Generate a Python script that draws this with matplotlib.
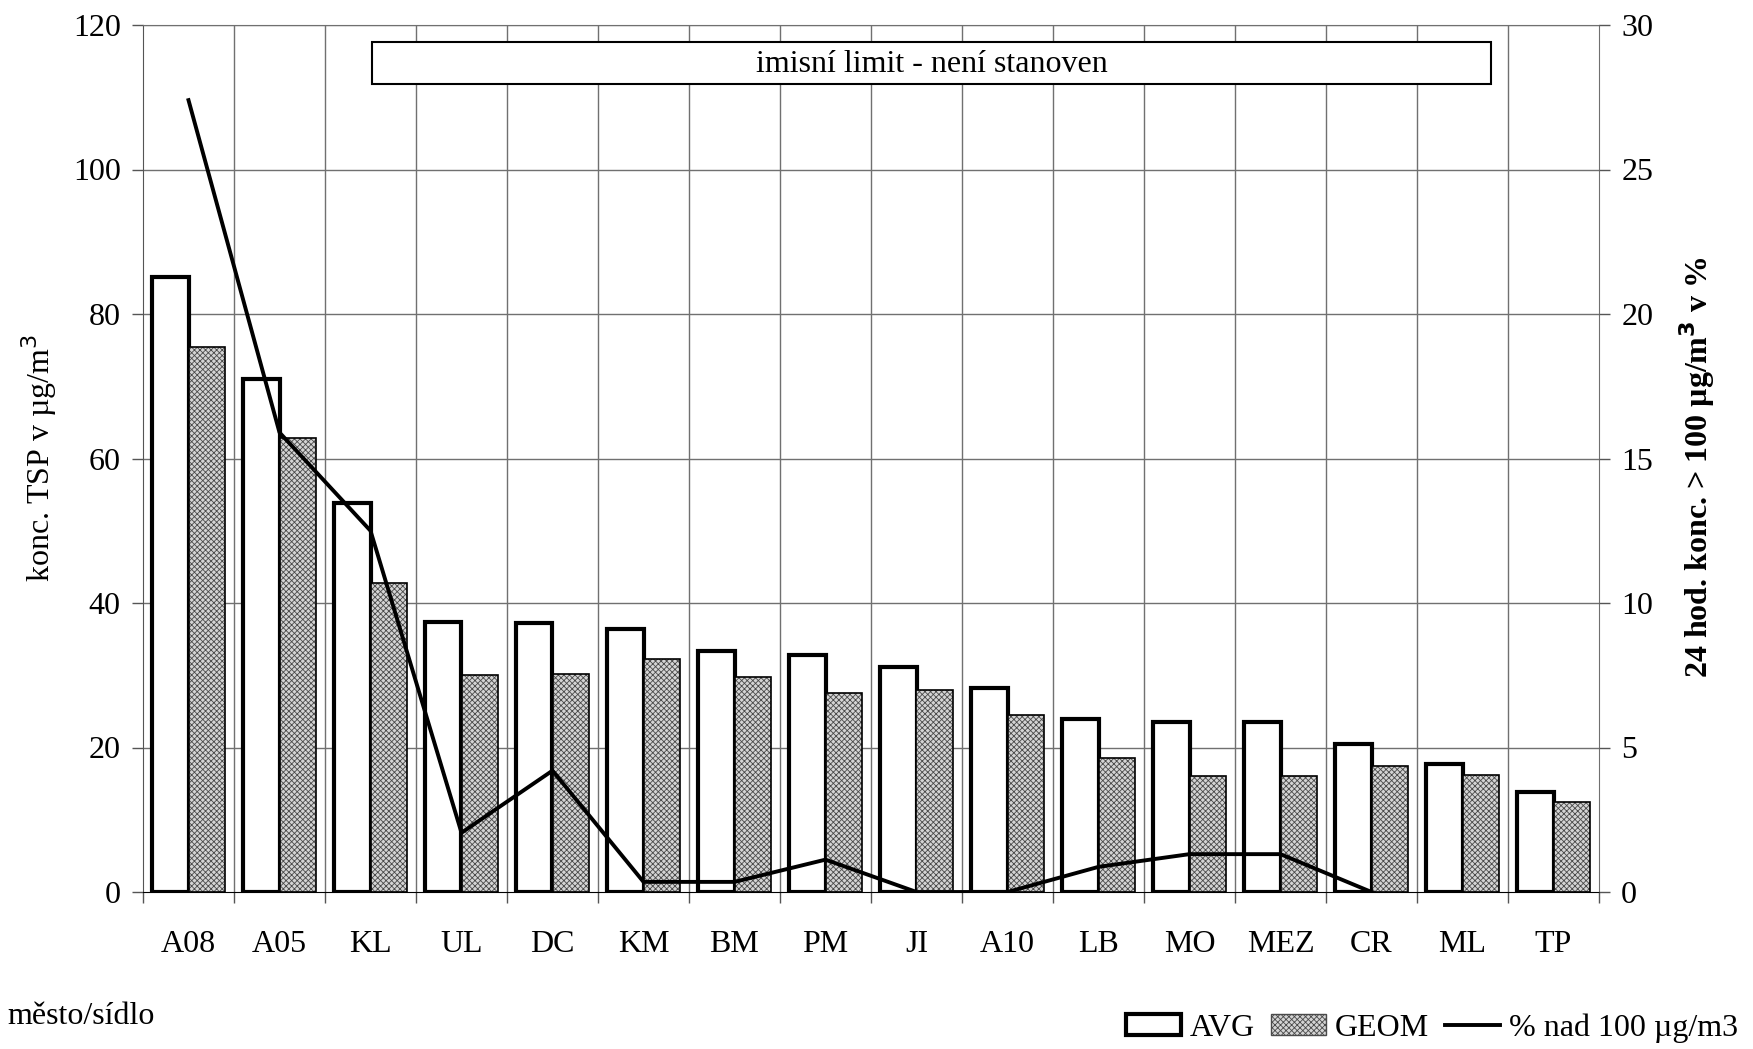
import matplotlib
matplotlib.use('Agg')
import matplotlib.pyplot as plt
from matplotlib.patches import Patch, Rectangle
from matplotlib.lines import Line2D
import numpy as np

# Data: TSP concentrations per station
stanice = ['A08', 'A05', 'KL', 'UL', 'DC', 'KM', 'BM', 'PM', 'JI', 'A10',
           'LB', 'MO', 'MEZ', 'CR', 'ML', 'TP']
avg = [85.1, 71.0, 53.8, 37.4, 37.2, 36.4, 33.4, 32.8, 31.1, 28.3,
       24.0, 23.5, 23.5, 20.5, 17.7, 13.9]
geom = [75.4, 62.8, 42.7, 30.0, 30.2, 32.2, 29.7, 27.5, 27.9, 24.5,
        18.6, 16.0, 16.0, 17.4, 16.2, 12.4]
# % of 24h values above 100 ug/m3 (no data for ML, TP)
nad_100 = [27.4, 15.9, 12.5, 2.05, 4.2, 0.35, 0.35, 1.12, 0.0, 0.0,
           0.87, 1.31, 1.31, 0.0, np.nan, np.nan]

plt.rcParams['font.family'] = ['Liberation Serif', 'DejaVu Serif']
plt.rcParams['hatch.linewidth'] = 0.6

fs = 23
x = np.arange(len(stanice))
w = 0.4

fig = plt.figure(figsize=(17.53, 10.49), dpi=100)
ax = fig.add_axes([143/1753, 1 - 892/1049, (1599 - 143)/1753, (892 - 25)/1049])

# gridlines at category borders and every 20 units
for xb in np.arange(0.5, len(stanice) - 1, 1):
    ax.axvline(xb, color='#707070', lw=1.0, zorder=0)
for yg in range(20, 121, 20):
    ax.axhline(yg, color='#707070', lw=1.0, zorder=0)

ax.bar(x - w/2, avg, w, align='center', facecolor='white', edgecolor='black',
       linewidth=3.0, zorder=2, label='AVG')
ax.bar(x + w/2, geom, w, align='center', facecolor='#d4d4d4', edgecolor='#4a4a4a',
       hatch='xxxxxx', linewidth=0, zorder=2)
ax.bar(x + w/2, geom, w, align='center', facecolor='none', edgecolor='black',
       linewidth=1.2, zorder=3)

ax.set_xlim(-0.5, len(stanice) - 0.5)
ax.set_ylim(0, 120)
ax.set_yticks(range(0, 121, 20))
ax.set_xticks(np.arange(-0.5, len(stanice), 1))
ax.set_xticklabels([])
ax.set_xticks(x, minor=True)
ax.set_xticklabels(stanice, minor=True)
ax.tick_params(axis='x', which='major', direction='out', length=8, width=1, color='#555555')
ax.tick_params(axis='x', which='minor', length=0, pad=27, labelsize=fs)
ax.tick_params(axis='y', direction='out', length=8, width=1, color='#555555', pad=8, labelsize=fs)
for s in ['top', 'right']:
    ax.spines[s].set_color('#707070')
ax.spines['left'].set_color('#555555')
ax.spines['bottom'].set_color('black')

ax2 = ax.twinx()
ax2.plot(x, nad_100, color='black', lw=2.8, zorder=5)
ax2.set_ylim(0, 30)
ax2.set_yticks(range(0, 31, 5))
ax2.tick_params(axis='y', direction='out', length=8, width=1, color='#555555', pad=8, labelsize=fs)
for s in ax2.spines.values():
    s.set_visible(False)

# limit info box
ax.add_patch(Rectangle((0.157, 0.932), 0.769, 0.048, transform=ax.transAxes,
                       facecolor='white', edgecolor='black', lw=1.5, zorder=4))
ax.text(0.5415, 0.955, 'imisní limit - není stanoven', transform=ax.transAxes,
        ha='center', va='center', fontsize=fs, zorder=5)

fig.text(39/1753, 1 - 458/1049, 'konc. TSP v µg/m$^3$', rotation=90,
         ha='center', va='center', fontsize=fs)
fig.text(1697/1753, 1 - 467/1049, '24 hod. konc. > 100 µg/m$^\\mathbf{3}$ v %', rotation=90,
         ha='center', va='center', fontsize=fs, fontweight='bold')
fig.text(7/1753, 1 - 1017/1049, 'město/sídlo', ha='left', va='center', fontsize=fs)

handles = [Patch(facecolor='white', edgecolor='black', linewidth=3.0),
           Patch(facecolor='#d4d4d4', edgecolor='#4a4a4a', hatch='xxxxxx', linewidth=1.0),
           Line2D([], [], color='black', lw=2.8)]
fig.legend(handles, ['AVG', 'GEOM', '% nad 100 µg/m3'], loc='center right',
           bbox_to_anchor=(0.999, 1 - 1028/1049), ncol=3, frameon=False, fontsize=fs,
           handlelength=1.7, handleheight=0.65, handletextpad=0.3, columnspacing=0.5,
           borderaxespad=0)

fig.savefig('out.png', dpi=100)
